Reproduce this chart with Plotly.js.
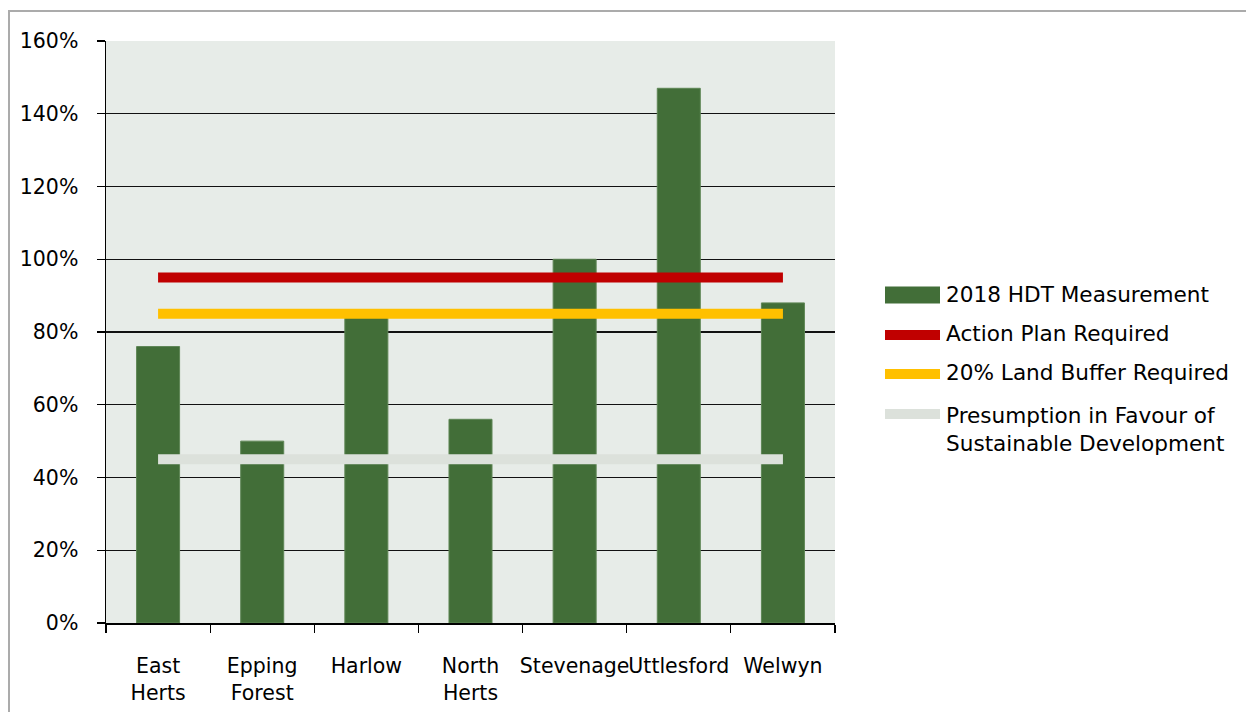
<!DOCTYPE html>
<html>
<head>
<meta charset="utf-8">
<script src="https://cdn.plot.ly/plotly-3.0.1.min.js"></script>
<style>
  html, body { margin: 0; padding: 0; background: #fff; overflow: hidden; }
  #chart { position: absolute; left: 0; top: 0; width: 1246px; height: 712px; }
  #frame { position: absolute; left: 8px; top: 10px; width: 1400px; height: 900px;
           border-left: 2px solid #ABABAB; border-top: 2px solid #ABABAB; pointer-events: none; }
</style>
</head>
<body>
<div id="chart"></div>
<div id="frame"></div>
<script>
// ---- data ----
const categories = ["East<br>Herts", "Epping<br>Forest", "Harlow", "North<br>Herts", "Stevenage", "Uttlesford", "Welwyn"];
const hdt2018 = [76, 50, 84, 56, 100, 147, 88];
const actionPlan = [95, 95, 95, 95, 95, 95, 95];
const landBuffer = [85, 85, 85, 85, 85, 85, 85];
const presumption = [45, 45, 45, 45, 45, 45, 45];
const yTickValues = [0, 20, 40, 60, 80, 100, 120, 140, 160];
const yTickLabels = ["0%", "20%", "40%", "60%", "80%", "100%", "120%", "140%", "160%"];
const seriesNames = ["2018 HDT Measurement", "Action Plan Required", "20% Land Buffer Required",
                     "Presumption in Favour of<br>Sustainable Development"];

// ---- styling ----
const FONT = "DejaVu Sans, sans-serif";
const GREEN = "#426E38", RED = "#C00000", YELLOW = "#FFC000", GREY = "#DCE1DB";

const W = 1246, H = 712;
const M = { l: 106, r: 411, t: 41, b: 89 };
const pw = W - M.l - M.r, ph = H - M.t - M.b;
const px = x => (x - M.l) / pw;          // pixel -> paper x
const py = y => (H - M.b - y) / ph;      // pixel -> paper y

const traces = [
  { type: "bar", x: categories, y: hdt2018, name: seriesNames[0], showlegend: false,
    marker: { color: GREEN, line: { color: "#5E8655", width: 1 } }, hoverinfo: "x+y" },
  { type: "scatter", mode: "lines", x: categories, y: presumption, name: seriesNames[3], showlegend: false,
    line: { color: GREY, width: 10 } },
  { type: "scatter", mode: "lines", x: categories, y: landBuffer, name: seriesNames[2], showlegend: false,
    line: { color: YELLOW, width: 10 } },
  { type: "scatter", mode: "lines", x: categories, y: actionPlan, name: seriesNames[1], showlegend: false,
    line: { color: RED, width: 10 } }
];

// manual legend (swatches + labels)
const legendRows = [
  { color: GREEN, h: 17, yc: 295, text: seriesNames[0], ty: 294 },
  { color: RED, h: 10, yc: 335, text: seriesNames[1], ty: 333 },
  { color: YELLOW, h: 10, yc: 374, text: seriesNames[2], ty: 372 },
  { color: GREY, h: 10, yc: 414, text: seriesNames[3], ty: 429 }
];
const shapes = legendRows.map(r => ({
  type: "rect", xref: "paper", yref: "paper",
  x0: px(885), x1: px(940), y0: py(r.yc + r.h / 2), y1: py(r.yc - r.h / 2),
  fillcolor: r.color, line: { width: 0 }
}));
const annotations = legendRows.map(r => ({
  xref: "paper", yref: "paper", x: px(944), y: py(r.ty), xanchor: "left", yanchor: "middle",
  text: r.text, showarrow: false, align: "left",
  font: { family: FONT, size: 21.6, color: "#000" }
}));

const layout = {
  width: W, height: H,
  margin: M,
  paper_bgcolor: "#FFFFFF",
  plot_bgcolor: "#E7ECE8",
  font: { family: FONT, size: 20.5, color: "#000" },
  showlegend: false,
  bargap: 0.587,
  xaxis: {
    type: "category", range: [-0.5, 6.5],
    tickson: "boundaries", ticks: "outside", ticklen: 8, tickcolor: "#000", tickwidth: 1.2,
    tickangle: 0, showline: true, linecolor: "#000", linewidth: 1.5,
    showgrid: false, ticklabelstandoff: 24,
    tickfont: { family: FONT, size: 20.5, color: "#000" }
  },
  yaxis: {
    range: [0, 160], tickmode: "array", tickvals: yTickValues, ticktext: yTickLabels,
    ticks: "outside", ticklen: 8, tickcolor: "#000", tickwidth: 1.2,
    showline: true, linecolor: "#000", linewidth: 1.5,
    showgrid: true, gridcolor: "#111111", gridwidth: 1.4,
    zeroline: false, ticklabelstandoff: 14,
    tickfont: { family: FONT, size: 20.5, color: "#000" }
  },
  shapes: shapes,
  annotations: annotations
};

Plotly.newPlot("chart", traces, layout, { displayModeBar: false, staticPlot: true });
</script>
</body>
</html>
